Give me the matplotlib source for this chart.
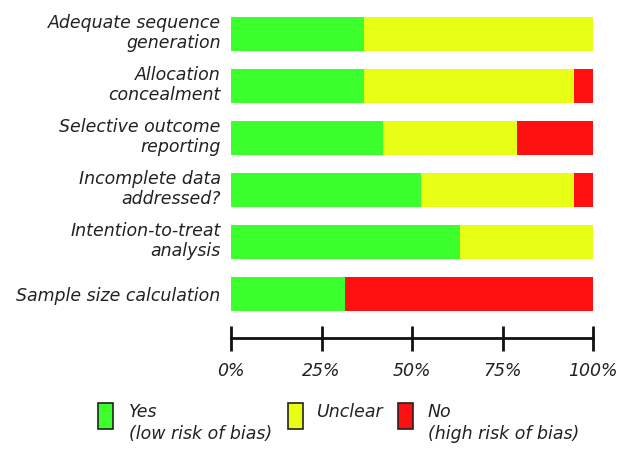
import matplotlib
matplotlib.use("Agg")
import matplotlib.pyplot as plt
from matplotlib.patches import Rectangle
from matplotlib.transforms import ScaledTranslation
import numpy as np

categories = ["Adequate sequence\ngeneration", "Allocation\nconcealment",
              "Selective outcome\nreporting", "Incomplete data\naddressed?",
              "Intention-to-treat\nanalysis", "Sample size calculation"]
yes_pct = [36.8, 36.8, 42.1, 52.6, 63.2, 31.6]
unclear_pct = [63.2, 57.9, 36.8, 42.1, 36.8, 0.0]
no_pct = [0.0, 5.3, 21.1, 5.3, 0.0, 68.4]
tick_values = [0, 25, 50, 75, 100]
tick_labels = ["0%", "25%", "50%", "75%", "100%"]
legend_labels = ["Yes\n(low risk of bias)", "Unclear", "No\n(high risk of bias)"]

GREEN = "#3cff2e"
YELLOW = "#e6ff14"
RED = "#ff1010"
TXT = "#222222"

W, H = 626, 455
fig = plt.figure(figsize=(W / 100, H / 100), dpi=100)
ax = fig.add_axes([231 / W, (H - 338) / H, 362 / W, 330 / H])

y = np.arange(len(categories))
yes = np.array(yes_pct)
unc = np.array(unclear_pct)
no = np.array(no_pct)
bh = 0.655
ax.barh(y, yes, height=bh, color=GREEN, linewidth=0)
ax.barh(y, unc, left=yes, height=bh, color=YELLOW, linewidth=0)
ax.barh(y, no, left=yes + unc, height=bh, color=RED, linewidth=0)

ax.set_xlim(0, 100)
ax.set_ylim(5.846, -0.5)
for s in ["top", "right", "left"]:
    ax.spines[s].set_visible(False)
ax.spines["bottom"].set_linewidth(2.0)
ax.spines["bottom"].set_color("#111111")
ax.set_yticks(y)
ax.set_yticklabels(categories, fontsize=12.5, style="italic", color=TXT,
                   ha="right", linespacing=1.15)
ax.tick_params(axis="y", length=0, pad=7.5)
up = ScaledTranslation(0, 4 / 100, fig.dpi_scale_trans)
for lbl in ax.get_yticklabels():
    if "\n" in lbl.get_text():
        lbl.set_transform(lbl.get_transform() + up)
ax.set_xticks(tick_values)
ax.set_xticklabels(tick_labels, fontsize=12.5, style="italic", color=TXT)
ax.tick_params(axis="x", direction="inout", length=18, width=2.0,
               color="#111111", pad=8)

# legend
colors = [GREEN, YELLOW, RED]
box_x = [98, 288, 398]
text_x = [129, 317, 428]
for c, bx, tx, lab in zip(colors, box_x, text_x, legend_labels):
    fig.patches.append(Rectangle((bx / W, (H - 429) / H), 15 / W, 26 / H,
                                 transform=fig.transFigure, facecolor=c,
                                 edgecolor="#222222", linewidth=1.2))
    fig.text(tx / W, (H - 403) / H, lab, ha="left", va="top", fontsize=12.5,
             style="italic", color=TXT, linespacing=1.3)

fig.savefig("out.png", dpi=100, facecolor="white")
